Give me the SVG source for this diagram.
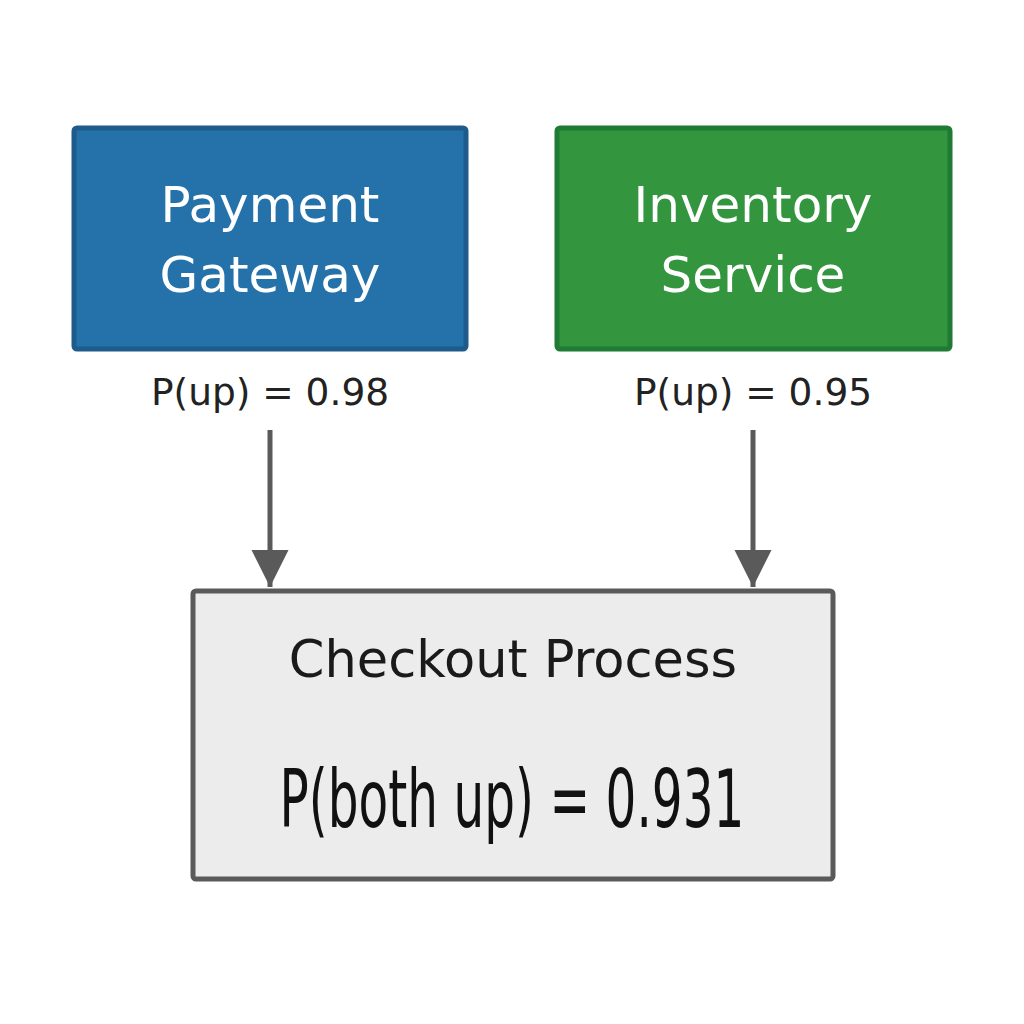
<svg xmlns="http://www.w3.org/2000/svg" width="1024" height="1024" viewBox="0 0 1024 1024">
<style>
text{font-family:"DejaVu Sans","Noto Sans",sans-serif;text-anchor:middle}
.nt{fill:#ffffff;font-size:50px}
.lbl{fill:#222222;font-size:37.5px}
.conn{stroke:#5a5a5a;stroke-width:5;fill:none}
</style>
<defs>
<marker id="ah" viewBox="0 0 10 10" refX="10" refY="5" markerWidth="7.5" markerHeight="7.5" markerUnits="strokeWidth" orient="auto">
<path d="M0,0 L10,5 L0,10 z" fill="#5a5a5a"/>
</marker>
</defs>
<rect width="1024" height="1024" fill="#ffffff"/>
<g id="payment">
<rect x="74" y="128" width="392" height="221" rx="3" fill="#2572ab" stroke="#1e5a8a" stroke-width="5"/>
<text class="nt" x="270" y="222">Payment</text>
<text class="nt" x="270" y="292">Gateway</text>
<text class="lbl" x="270" y="405">P(up) = 0.98</text>
</g>
<g id="inventory">
<rect x="557" y="128" width="393" height="221" rx="3" fill="#33963f" stroke="#1f7a34" stroke-width="5"/>
<text class="nt" x="753" y="222">Inventory</text>
<text class="nt" x="753" y="292">Service</text>
<text class="lbl" x="753" y="405">P(up) = 0.95</text>
</g>
<g id="checkout">
<rect x="193" y="591" width="640" height="288" rx="3" fill="#ececec" stroke="#5a5a5a" stroke-width="5"/>
<text x="513" y="677" font-size="51" fill="#1a1a1a">Checkout Process</text>
<text transform="translate(512,827) scale(0.607,1)" x="0" y="0" font-size="80" fill="#111111">P(both up) = 0.931</text>
</g>
<g id="connectors">
<line class="conn" x1="270" y1="430" x2="270" y2="587" marker-end="url(#ah)"/>
<line class="conn" x1="753" y1="430" x2="753" y2="587" marker-end="url(#ah)"/>
</g>
</svg>
